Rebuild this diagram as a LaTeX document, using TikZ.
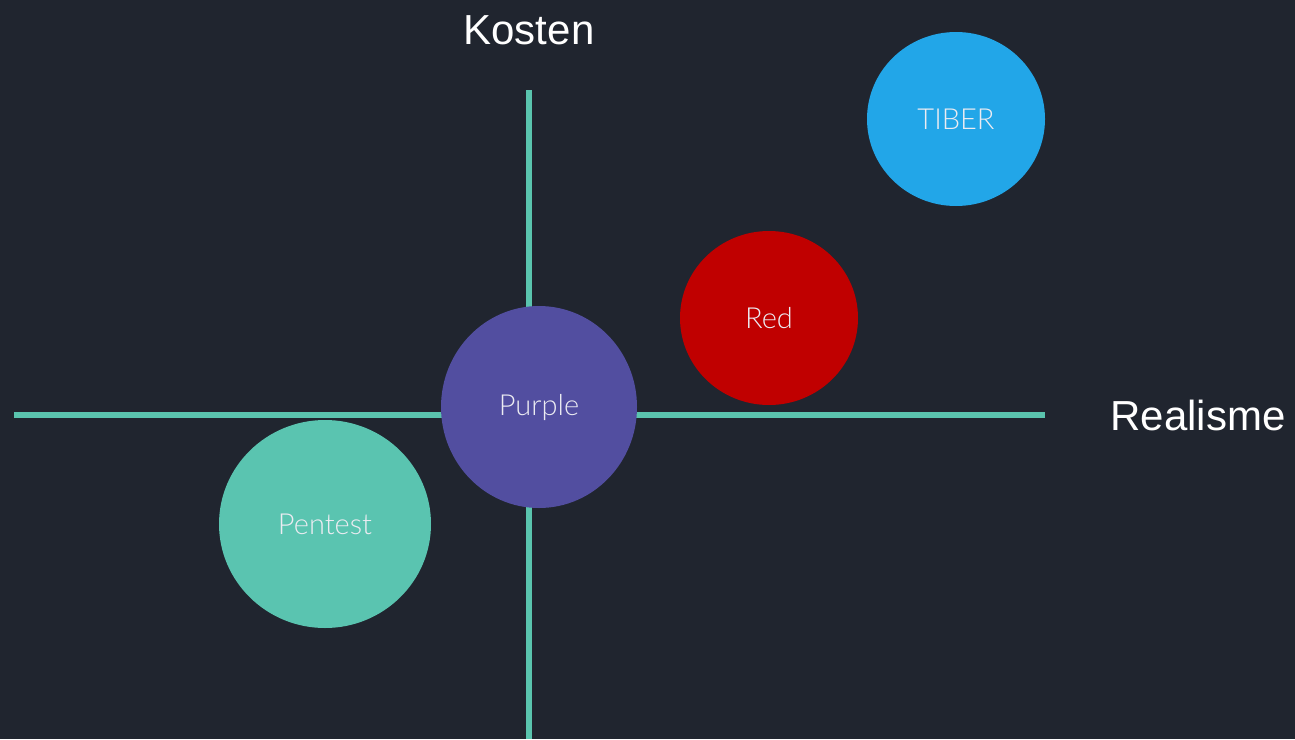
\documentclass[tikz,border=0pt]{standalone}
\usepackage{fontspec}
\setmainfont{Liberation Sans}
\newfontfamily\latolight{Lato Light}
\usetikzlibrary{shapes.geometric}
\definecolor{bgdark}{HTML}{20252F}
\definecolor{axisgreen}{HTML}{5AC4AE}
\definecolor{tiberblue}{HTML}{22A6E8}
\definecolor{redteam}{HTML}{C00000}
\definecolor{purpleteam}{HTML}{524EA0}
\definecolor{pentestgreen}{HTML}{5AC4B0}
\definecolor{bubbletext}{HTML}{ECECF2}
\begin{document}
\begin{tikzpicture}[
  x=1pt,y=-1pt,
  axis/.style={draw=axisgreen,line width=6pt},
  axislabel/.style={text=white,font=\fontsize{42}{46}\selectfont,inner sep=0pt},
  bubble/.style={ellipse,inner sep=0pt,text=bubbletext,
    font=\latolight\fontsize{29}{32}\selectfont}
]
\fill[bgdark] (0,0) rectangle (1295,739);
\useasboundingbox (0,0) rectangle (1295,739);

% axes
\coordinate (ytop) at (529,90);
\coordinate (ybot) at (529,739);
\coordinate (xleft) at (14,415);
\coordinate (xright) at (1045,415);
\draw[axis] (ytop) -- (ybot);
\draw[axis] (xleft) -- (xright);

\node[axislabel] (kosten) at (529,30) {Kosten};
\node[axislabel] (realisme) at (1198,415) {Realisme};

% bubbles
\node[bubble,fill=tiberblue,minimum width=178pt,minimum height=174pt] (tiber) at (956,119) {TIBER};
\node[bubble,fill=redteam,minimum width=178pt,minimum height=174pt] (red) at (769,318) {Red};
\node[bubble,fill=purpleteam,minimum width=196pt,minimum height=202pt] (purple) at (539,407) {Purple};
\node[bubble,fill=pentestgreen,minimum width=212pt,minimum height=208pt] (pentest) at (325,524) {Pentest};
\end{tikzpicture}
\end{document}
